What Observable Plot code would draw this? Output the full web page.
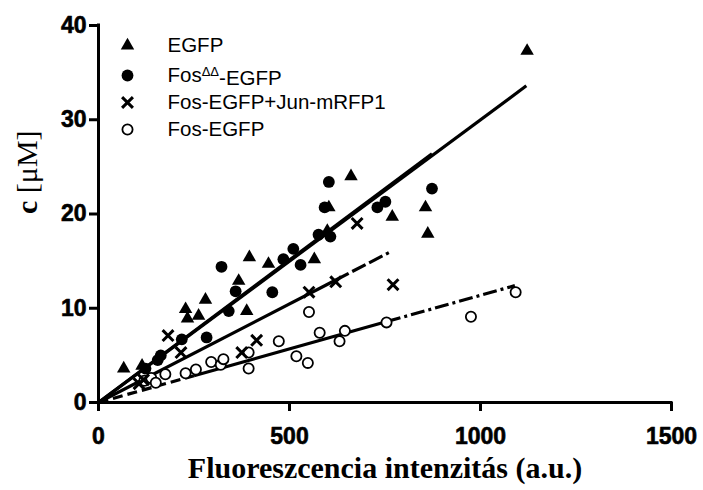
<!DOCTYPE html>
<html>
<head>
<meta charset="utf-8">
<script src="https://cdn.jsdelivr.net/npm/d3@7"></script>
<script src="https://cdn.jsdelivr.net/npm/@observablehq/plot@0.6"></script>
<style>
  body { margin: 0; background: #fff; }
  #chart { width: 703px; height: 490px; }
</style>
</head>
<body>
<div id="chart"></div>
<script>
// Concentration vs. fluorescence intensity for four constructs
const seriesNames = ["EGFP", "FosΔΔ-EGFP", "Fos-EGFP+Jun-mRFP1", "Fos-EGFP"];

// EGFP (filled triangles)
const egfpX = [66, 114, 228, 233, 262, 280, 367, 388, 395, 445, 565, 599, 603, 661, 769, 856, 862, 1122];
const egfpY = [3.6, 3.9, 9.9, 8.9, 9.2, 10.9, 12.9, 9.7, 15.4, 14.7, 15.2, 18.2, 20.7, 24.0, 19.7, 20.7, 17.9, 37.3];

// FosΔΔ-EGFP (filled circles)
const fosDDX = [123, 155, 163, 218, 283, 322, 341, 359, 455, 484, 510, 529, 576, 592, 603, 607, 730, 751, 873];
const fosDDY = [3.6, 4.5, 5.0, 6.7, 6.9, 14.4, 9.7, 11.8, 11.7, 15.2, 16.3, 14.6, 17.8, 20.7, 23.4, 17.6, 20.7, 21.3, 22.7];

// Fos-EGFP + Jun-mRFP1 (crosses)
const fosJunX = [106, 118, 182, 216, 375, 414, 551, 621, 677, 771];
const fosJunY = [2.0, 2.4, 7.1, 5.3, 5.3, 6.6, 11.7, 12.8, 19.0, 12.5];

// Fos-EGFP (open circles)
const fosX = [120, 138, 150, 175, 228, 255, 295, 320, 327, 393, 393, 472, 518, 548, 551, 579, 631, 645, 754, 975, 1092];
const fosY = [2.3, 2.6, 2.1, 3.0, 3.1, 3.5, 4.3, 4.0, 4.6, 3.6, 5.3, 6.5, 4.9, 4.2, 9.6, 7.4, 6.5, 7.6, 8.5, 9.1, 11.7];

// Linear fits through the origin: end point of each fitted line
const fitEndX = [1120, 873, 760, 1090];
const fitEndY = [33.6, 26.4, 15.9, 12.4];
// x positions where a fitted line changes its stroke pattern
const fitBreaksX = [[0, 1120], [0, 873], [0, 620, 760], [0, 250, 755, 1090]];

const xTicks = [0, 500, 1000, 1500];
const yTicks = [0, 10, 20, 30, 40];
const xTitle = "Fluoreszcencia intenzitás (a.u.)";
const yTitle = "c [μM]";

const pts = (xs, ys) => xs.map((x, i) => ({x, y: ys[i]}));
const series = [pts(egfpX, egfpY), pts(fosDDX, fosDDY), pts(fosJunX, fosJunY), pts(fosX, fosY)];

// marker styling per series
const markStyle = [
  {symbol: "triangle", r: 5.0, fill: "black", stroke: "none"},
  {symbol: "circle", r: 5.9, fill: "black", stroke: "none"},
  {symbol: "times", r: 5.0, fill: "none", stroke: "black", strokeWidth: 3},
  {symbol: "circle", r: 5.1, fill: "white", stroke: "black", strokeWidth: 1.8}
];
// stroke pattern for each piece of each fitted line
const piecePatterns = [[null], [null], [null, "15,4"], ["10,5", null, "14,4,3,4"]];

const legendRowsDy = [20, 50, 77, 104];
const sansFont = "Liberation Sans, Arial, sans-serif";
const serifFont = "Liberation Serif, Times New Roman, serif";

const marks = [];
fitBreaksX.forEach((breaks, i) => {
  const slope = fitEndY[i] / fitEndX[i];
  for (let k = 0; k < breaks.length - 1; k++) {
    const piece = [{x: breaks[k], y: slope * breaks[k]}, {x: breaks[k + 1], y: slope * breaks[k + 1]}];
    const dash = piecePatterns[i][k];
    marks.push(Plot.line(piece, {x: "x", y: "y", stroke: "black", strokeWidth: 3.2,
      strokeLinecap: "butt", ...(dash ? {strokeDasharray: dash} : {})}));
  }
});
[3, 2, 0, 1].forEach(i => {
  marks.push(Plot.dot(series[i], {x: "x", y: "y", ...markStyle[i]}));
});
// legend inside the frame
seriesNames.forEach((name, i) => {
  marks.push(Plot.dot([name], {frameAnchor: "top-left", dx: 29, dy: legendRowsDy[i], ...markStyle[i]}));
  marks.push(Plot.text([name], {frameAnchor: "top-left", dx: 69, dy: legendRowsDy[i],
    text: d => d, textAnchor: "start", lineAnchor: "middle",
    fontSize: 20.5, fontFamily: sansFont, fill: "black"}));
});
// axes: lines, ticks and heavy bold labels
marks.push(Plot.ruleY([0], {stroke: "black", strokeWidth: 3, strokeLinecap: "square"}));
marks.push(Plot.ruleX([0], {stroke: "black", strokeWidth: 3, strokeLinecap: "square"}));
marks.push(Plot.axisX(xTicks, {tickSize: 9, strokeWidth: 3, text: null, label: null}));
marks.push(Plot.axisY(yTicks, {tickSize: 9, strokeWidth: 3, text: null, label: null}));
marks.push(Plot.text(xTicks, {x: d => d, frameAnchor: "bottom", dy: 25, lineAnchor: "top",
  text: d => String(d), fontSize: 23, fontWeight: "bold", fontFamily: sansFont,
  fill: "black", stroke: "black", strokeWidth: 0.6}));
marks.push(Plot.text(yTicks, {y: d => d, frameAnchor: "left", dx: -12, textAnchor: "end", lineAnchor: "middle",
  text: d => String(d), fontSize: 23, fontWeight: "bold", fontFamily: sansFont,
  fill: "black", stroke: "black", strokeWidth: 0.6}));
marks.push(Plot.text([xTitle], {frameAnchor: "bottom", dy: 66, text: d => d, lineAnchor: "middle",
  fontSize: 30, fontWeight: "bold", fontFamily: serifFont, fill: "black"}));
marks.push(Plot.text([yTitle], {frameAnchor: "left", dx: -71, rotate: -90, text: d => d, lineAnchor: "middle",
  fontSize: 30, fontFamily: serifFont, fill: "black"}));

const chart = Plot.plot({
  width: 703,
  height: 490,
  marginLeft: 98,
  marginRight: 32,
  marginTop: 25,
  marginBottom: 88,
  x: {domain: [0, 1500], axis: null},
  y: {domain: [0, 40], axis: null},
  style: {background: "white", color: "black", overflow: "visible"},
  marks
});
document.getElementById("chart").appendChild(chart);

d3.select(chart).selectAll("text").each(function() {
  const t = d3.select(this);
  const s = t.text();
  if (s === "FosΔΔ-EGFP") {
    // superscript in the legend entry
    t.text("");
    t.append("tspan").text("Fos");
    t.append("tspan").attr("dy", "-0.45em").attr("font-size", "13px").text("ΔΔ");
    t.append("tspan").attr("dy", "0.45em").text("-EGFP");
  } else if (s === yTitle) {
    // bold "c" in the y title
    t.text("");
    t.append("tspan").attr("font-weight", "bold").text("c ");
    t.append("tspan").text("[μM]");
  }
});
</script>
</body>
</html>
